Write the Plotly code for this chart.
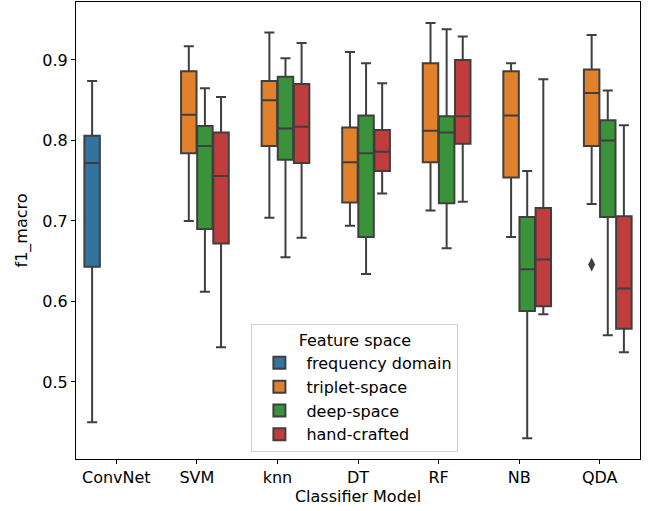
import plotly.graph_objects as go

categories = ["ConvNet", "SVM", "knn", "DT", "RF", "NB", "QDA"]
hues = ["frequency domain", "triplet-space", "deep-space", "hand-crafted"]
colors = ["#3274a1", "#e1812c", "#3a923a", "#c03d3e"]

# frequency domain (ConvNet only)
freq_x = ["ConvNet"]
freq_low = [0.450]; freq_q1 = [0.643]; freq_med = [0.772]; freq_q3 = [0.806]; freq_up = [0.874]

cls = ["SVM", "knn", "DT", "RF", "NB", "QDA"]
trip_low = [0.700, 0.704, 0.694, 0.713, 0.680, 0.721]
trip_q1 = [0.784, 0.793, 0.723, 0.773, 0.754, 0.793]
trip_med = [0.832, 0.850, 0.773, 0.812, 0.831, 0.859]
trip_q3 = [0.886, 0.874, 0.816, 0.896, 0.886, 0.888]
trip_up = [0.917, 0.934, 0.910, 0.946, 0.896, 0.931]

deep_low = [0.612, 0.655, 0.634, 0.666, 0.430, 0.558]
deep_q1 = [0.690, 0.776, 0.680, 0.722, 0.588, 0.705]
deep_med = [0.793, 0.815, 0.784, 0.810, 0.640, 0.800]
deep_q3 = [0.818, 0.879, 0.831, 0.830, 0.705, 0.825]
deep_up = [0.865, 0.902, 0.896, 0.938, 0.762, 0.862]

hand_low = [0.543, 0.679, 0.734, 0.724, 0.584, 0.537]
hand_q1 = [0.672, 0.772, 0.762, 0.796, 0.594, 0.566]
hand_med = [0.756, 0.817, 0.786, 0.830, 0.652, 0.616]
hand_q3 = [0.810, 0.870, 0.813, 0.900, 0.716, 0.706]
hand_up = [0.854, 0.921, 0.871, 0.929, 0.876, 0.819]

# outliers: (category, hue index, value)
outlier_cat = ["QDA"]
outlier_hue = [1]
outlier_val = [0.646]

edge = "#3f3f3f"
font = "DejaVu Sans"

fig = go.Figure()
series = [
    (freq_x, freq_low, freq_q1, freq_med, freq_q3, freq_up),
    (cls, trip_low, trip_q1, trip_med, trip_q3, trip_up),
    (cls, deep_low, deep_q1, deep_med, deep_q3, deep_up),
    (cls, hand_low, hand_q1, hand_med, hand_q3, hand_up),
]
for i, (xs, lo, q1, med, q3, up) in enumerate(series):
    fig.add_trace(go.Box(
        x=xs, lowerfence=lo, q1=q1, median=med, q3=q3, upperfence=up,
        name=hues[i], fillcolor=colors[i], line=dict(color=edge, width=2),
        whiskerwidth=0.65, boxpoints=False, offsetgroup=str(i),
    ))

n_h = len(hues)
ox = [categories.index(c) + (h - (n_h - 1) / 2) * 0.2 for c, h in zip(outlier_cat, outlier_hue)]
fig.add_trace(go.Scatter(
    x=ox, y=outlier_val, mode="markers", xaxis="x2", showlegend=False,
    marker=dict(symbol="diamond-tall", size=10, color=edge), hoverinfo="y",
))

fig.update_layout(
    width=659, height=511,
    margin=dict(l=76, r=19, t=2, b=52),
    plot_bgcolor="white", paper_bgcolor="white",
    boxmode="group", boxgap=0.2, boxgroupgap=0.04,
    font=dict(family=font, size=16, color="black"),
    xaxis=dict(
        type="category", categoryorder="array", categoryarray=categories,
        range=[-0.5, 6.5], showline=True, mirror=True, linecolor="black", linewidth=1,
        ticks="outside", ticklen=4, tickcolor="black", showgrid=False,
        title=dict(text="Classifier Model", standoff=2, font=dict(size=16)),
    ),
    xaxis2=dict(overlaying="x", range=[-0.5, 6.5], visible=False),
    yaxis=dict(
        range=[0.4043, 0.972], tickvals=[0.5, 0.6, 0.7, 0.8, 0.9], tickformat=".1f",
        showline=True, mirror=True, linecolor="black", linewidth=1,
        ticks="outside", ticklen=4, tickcolor="black", showgrid=False, zeroline=False,
        title=dict(text="f1_macro", standoff=10, font=dict(size=16)),
    ),
    legend=dict(
        title=dict(text="Feature space", side="top center", font=dict(size=16)),
        x=0.311, y=0.015, xanchor="left", yanchor="bottom",
        bordercolor="#d0d0d0", borderwidth=1, bgcolor="rgba(255,255,255,0.8)",
        font=dict(size=16), itemsizing="constant", itemwidth=44,
    ),
)

fig.write_html("out.html")
